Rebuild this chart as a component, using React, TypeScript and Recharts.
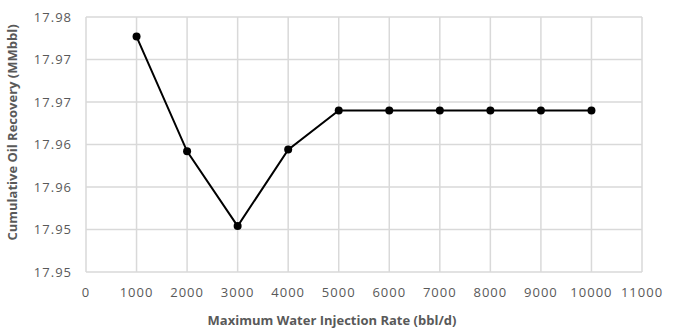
import * as React from "react";
import { CartesianGrid, Line, LineChart, XAxis, YAxis } from "recharts";

const rates = [1000, 2000, 3000, 4000, 5000, 6000, 7000, 8000, 9000, 10000];
const recovery = [17.9777, 17.9642, 17.9554, 17.9644, 17.969, 17.969, 17.969, 17.969, 17.969, 17.969];

const xTicks = [0, 1000, 2000, 3000, 4000, 5000, 6000, 7000, 8000, 9000, 10000, 11000];
const yTicks = [17.95, 17.955, 17.96, 17.965, 17.97, 17.975, 17.98];
const yTickLabels = ["17.95", "17.95", "17.96", "17.96", "17.97", "17.97", "17.98"];

const data = rates.map((r, i) => ({ rate: r, oil: recovery[i] }));

const tickStyle = { fontFamily: "Open Sans", fontSize: 13, fill: "#595959", letterSpacing: 1 };
const titleStyle = { fontFamily: "Open Sans", fontSize: 13, fontWeight: 700, fill: "#595959" };

export default function App() {
  return (
    <div style={{ position: "absolute", left: 0, top: 0, background: "#fff" }}>
      <LineChart width={674} height={329} data={data} margin={{ top: 17, right: 32, bottom: 0, left: 0 }}>
        <CartesianGrid stroke="#d9d9d9" strokeWidth={1.5} />
        <XAxis
          dataKey="rate"
          type="number"
          domain={[0, 11000]}
          ticks={xTicks}
          height={57}
          axisLine={false}
          tickLine={false}
          tickSize={0}
          tickMargin={16}
          tick={tickStyle}
          label={{ value: "Maximum Water Injection Rate (bbl/d)", position: "insideBottom", offset: 4, dx: -32, style: titleStyle }}
        />
        <YAxis
          type="number"
          domain={[17.95, 17.98]}
          ticks={yTicks}
          width={86}
          axisLine={false}
          tickLine={false}
          tickSize={0}
          tickMargin={14}
          tick={tickStyle}
          tickFormatter={(v: number) => yTickLabels[yTicks.indexOf(v)] ?? String(v)}
          label={{ value: "Cumulative Oil Recovery (MMbbl)", angle: -90, position: "insideLeft", offset: 12, dy: -12, style: { ...titleStyle, textAnchor: "middle" } }}
        />
        <Line
          dataKey="oil"
          stroke="#000"
          strokeWidth={2}
          dot={{ r: 4, fill: "#000", stroke: "#000", strokeWidth: 0 }}
          isAnimationActive={false}
        />
      </LineChart>
    </div>
  );
}
